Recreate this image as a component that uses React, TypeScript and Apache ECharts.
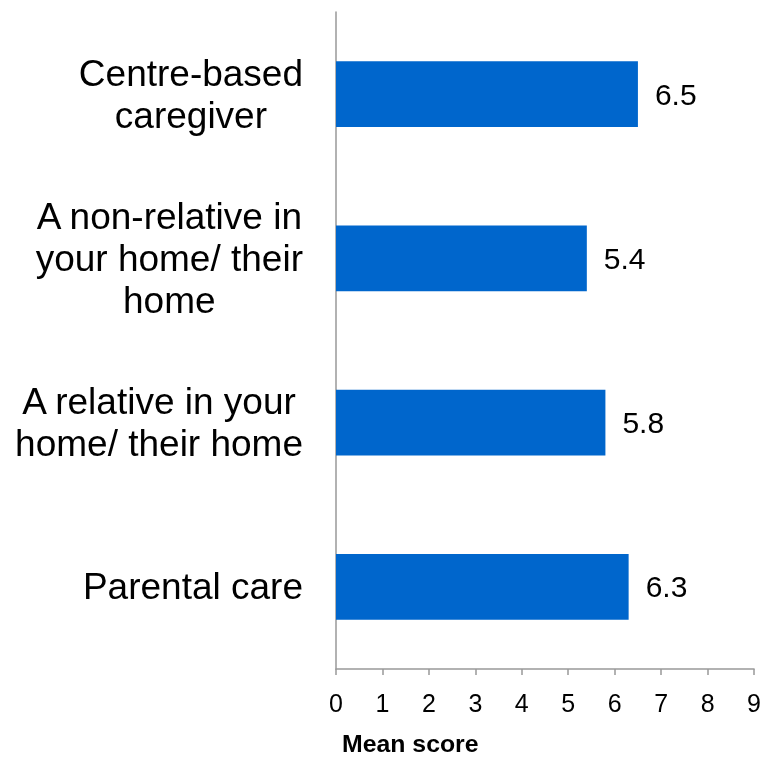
import React, { useEffect, useRef } from "react";
import * as echarts from "echarts";

const categories = [
  "Centre-based\ncaregiver",
  "A non-relative in\nyour home/ their\nhome",
  "A relative in your\nhome/ their home",
  "Parental care",
];
const meanScores = [6.5, 5.4, 5.8, 6.3];
const axisMin = 0;
const axisMax = 9;
const axisTitle = "Mean score";

export default function App() {
  const ref = useRef<HTMLDivElement>(null);
  useEffect(() => {
    if (!ref.current) return;
    const chart = echarts.init(ref.current, null, { renderer: "svg" });
    const font = "'Liberation Sans', Arial, sans-serif";
    chart.setOption({
      animation: false,
      textStyle: { fontFamily: font },
      grid: { left: 336, right: 8, top: 12, bottom: 88, containLabel: false },
      xAxis: {
        type: "value",
        min: axisMin,
        max: axisMax,
        interval: 1,
        splitLine: { show: false },
        axisLine: { show: true, lineStyle: { color: "#999999", width: 1.5 } },
        axisTick: { show: true, length: 6, lineStyle: { color: "#999999", width: 1.5 } },
        axisLabel: { fontSize: 25, color: "#000000", margin: 21, fontFamily: font },
      },
      yAxis: {
        type: "category",
        inverse: true,
        data: categories,
        axisLine: { show: true, lineStyle: { color: "#999999", width: 1.5 } },
        axisTick: { show: false },
        axisLabel: {
          margin: 33,
          color: "#000000",
          fontSize: 37,
          lineHeight: 42,
          fontFamily: font,
          align: "right",
          formatter: (v: string) =>
            v
              .split("\n")
              .map((l) => "{c|" + l + "}")
              .join("\n"),
          rich: {
            c: { align: "center", fontSize: 37, lineHeight: 42, color: "#000000", fontFamily: font },
          },
        },
      },
      series: [
        {
          type: "bar",
          data: meanScores,
          barCategoryGap: "60%",
          itemStyle: { color: "#0066CC" },
          label: {
            show: true,
            position: "right",
            distance: 17,
            fontSize: 30,
            color: "#000000",
            fontFamily: font,
            formatter: (p: any) => p.value.toFixed(1),
          },
        },
      ],
      graphic: [
        {
          type: "text",
          left: 342,
          top: 732,
          scaleX: 1.08,
          style: {
            text: axisTitle,
            fontSize: 23,
            lineHeight: 20,
            fontWeight: "bold",
            fill: "#000000",
            fontFamily: font,
          },
        },
      ],
    });
    return () => chart.dispose();
  }, []);
  return (
    <div
      ref={ref}
      style={{ position: "fixed", left: 0, top: 0, width: 764, height: 757 }}
    />
  );
}
